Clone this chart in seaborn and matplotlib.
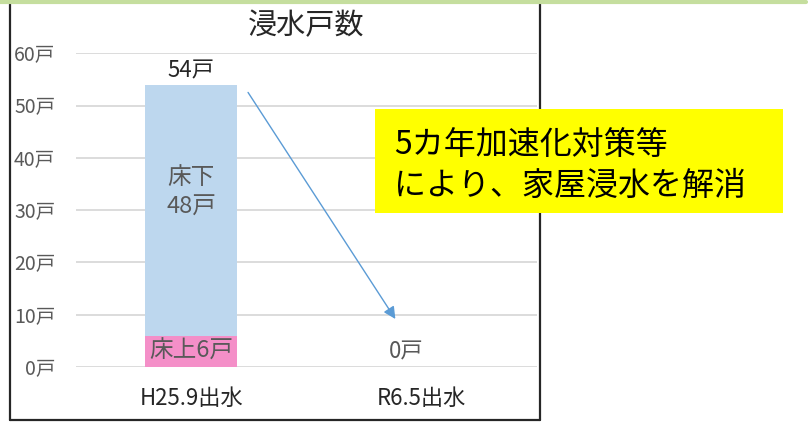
import matplotlib.pyplot as plt
import matplotlib.patches as mpatches
import matplotlib.lines as mlines
import pandas as pd
import seaborn as sns

# データ
events = ["H25.9出水", "R6.5出水"]
yukaue = [6, 0]      # 床上
yukashita = [48, 0]  # 床下
yticks = [0, 10, 20, 30, 40, 50, 60]
title = "浸水戸数"
note = "5カ年加速化対策等\nにより、家屋浸水を解消"

df = pd.DataFrame({"event": events, "yukaue": yukaue, "yukashita": yukashita})
df["total"] = df["yukaue"] + df["yukashita"]

sns.set_theme(style="white")
plt.rcParams['font.family'] = ['Noto Sans CJK JP', 'DejaVu Sans']

fig = plt.figure(figsize=(8.09, 4.22), dpi=100)
ax = fig.add_axes([0.094, 0.130, 0.570, 0.744])

# 積み上げ棒（合計を青、床上をピンクで重ねる）
sns.barplot(data=df, x="event", y="total", color="#BDD7EE", width=0.4,
            saturation=1, linewidth=0, ax=ax, zorder=2)
sns.barplot(data=df, x="event", y="yukaue", color="#F48FC8", width=0.4,
            saturation=1, linewidth=0, ax=ax, zorder=2)

ax.set_ylim(0, 60)
ax.set_xlim(-0.5, 1.5)
ax.set_yticks(yticks)
ax.set_yticklabels([f"{v}戸" for v in yticks], fontsize=14, color="#595959")
ax.tick_params(axis="y", length=0, pad=15)
ax.tick_params(axis="x", length=0, pad=14, labelsize=16, labelcolor="#262626")
ax.set_xlabel("")
ax.set_ylabel("")
ax.yaxis.grid(True, color="#D9D9D9", linewidth=1.3, zorder=0)
ax.set_axisbelow(True)
for s in ax.spines.values():
    s.set_visible(False)

# ラベル
for i, row in df.iterrows():
    if row["total"] > 0:
        ax.text(i, row["total"] + 0.4, f"{row['total']}戸", ha="center", va="bottom",
                fontsize=16, color="#262626")
        ax.text(i, row["yukaue"] + row["yukashita"] * 0.57, f"床下\n{row['yukashita']}戸",
                ha="center", va="center", fontsize=17, color="#595959", linespacing=1.35)
        ax.text(i, row["yukaue"] / 2, f"床上{row['yukaue']}戸", ha="center", va="center",
                fontsize=17, color="#595959")
    else:
        ax.text(i - 0.07, 3, f"{row['total']}戸", ha="center", va="center",
                fontsize=16, color="#595959")

ax.set_title(title, fontsize=21, color="#262626", pad=14)

# 矢印
ax.annotate("", xy=(0.885, 9.2), xytext=(0.246, 52.5),
            arrowprops=dict(arrowstyle="-|>", color="#5B9BD5", lw=1,
                            mutation_scale=18, shrinkA=0, shrinkB=0))

# 枠線
W, H = 809, 422
frame = dict(color="#262626", lw=1.6, transform=fig.transFigure)
fig.add_artist(mlines.Line2D([10 / W, 10 / W], [1, 1 - 420 / H], **frame))
fig.add_artist(mlines.Line2D([540 / W, 540 / W], [1, 1 - 420 / H], **frame))
fig.add_artist(mlines.Line2D([10 / W, 540 / W], [1 - 420 / H, 1 - 420 / H], **frame))
fig.add_artist(mlines.Line2D([0, 806 / W], [1 - 1.5 / H, 1 - 1.5 / H], color="#C5DE9E",
                             lw=3, transform=fig.transFigure))

# 黄色の注記ボックス
fig.add_artist(mpatches.Rectangle((375 / W, 1 - 213 / H), 408 / W, 104 / H,
                                  facecolor="#FFFF00", edgecolor="none",
                                  transform=fig.transFigure, zorder=5))
fig.text(394 / W, 1 - 166 / H, note, ha="left", va="center", fontsize=23,
         color="black", linespacing=1.3, zorder=6)

fig.savefig("out.png", dpi=100)
